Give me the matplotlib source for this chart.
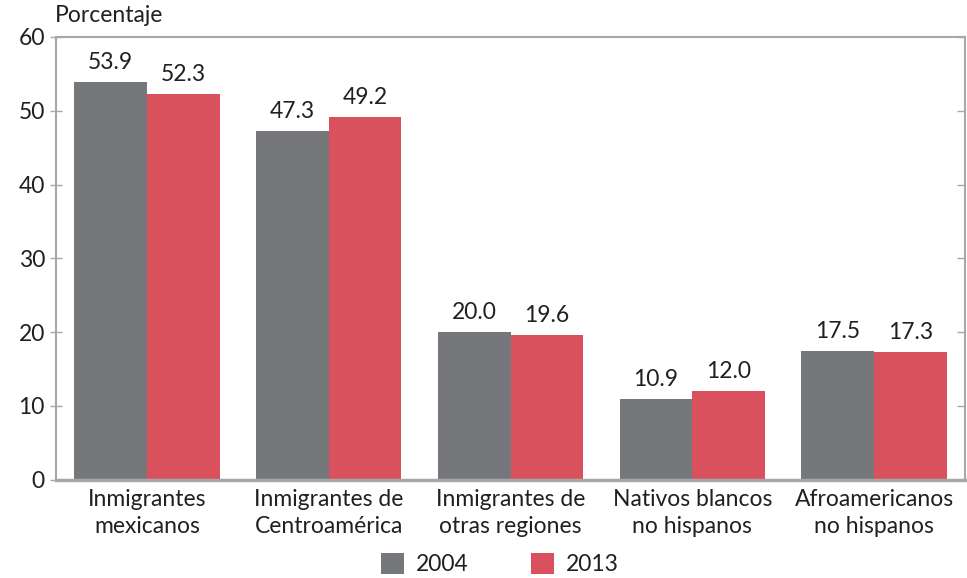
import matplotlib
matplotlib.use("Agg")
import matplotlib.pyplot as plt
import numpy as np

categories = ["Inmigrantes\nmexicanos", "Inmigrantes de\nCentroamérica",
              "Inmigrantes de\notras regiones", "Nativos blancos\nno hispanos",
              "Afroamericanos\nno hispanos"]
values_2004 = [53.9, 47.3, 20.0, 10.9, 17.5]
values_2013 = [52.3, 49.2, 19.6, 12.0, 17.3]
series_labels = ["2004", "2013"]
yticks = [0, 10, 20, 30, 40, 50, 60]

plt.rcParams['font.family'] = ['Lato', 'DejaVu Sans']
text_color = "#231f20"
grey = "#76777b"
red = "#d9515c"
spine_color = "#a7a7aa"
fs = 16.5

fig = plt.figure(figsize=(9.67, 5.78), dpi=100)
ax = fig.add_axes([0.058, 0.170, 0.940, 0.766])

x = np.arange(len(categories))
w = 0.4
b1 = ax.bar(x - w / 2, values_2004, w, color=grey, label=series_labels[0])
b2 = ax.bar(x + w / 2, values_2013, w, color=red, label=series_labels[1])

for bars, vals in ((b1, values_2004), (b2, values_2013)):
    for rect, v in zip(bars, vals):
        ax.text(rect.get_x() + rect.get_width() / 2, v + 1.2, f"{v:.1f}",
                ha="center", va="bottom", fontsize=fs, color=text_color)

ax.set_xlim(-0.5, len(categories) - 0.5)
ax.set_ylim(0, 60)
ax.set_yticks(yticks)
ax.set_yticklabels([str(t) for t in yticks], fontsize=fs, color=text_color)
ax.set_xticks(x)
ax.set_xticklabels(categories, fontsize=fs, color=text_color, linespacing=1.3)
ax.tick_params(axis="x", length=0, pad=7)
ax.tick_params(axis="y", direction="inout", length=8, width=1, color=spine_color, pad=4)

for side in ("left", "top", "right"):
    ax.spines[side].set_color(spine_color)
    ax.spines[side].set_linewidth(1.5)
ax.spines["bottom"].set_color(spine_color)
ax.spines["bottom"].set_linewidth(2.5)

# right-hand inner ticks
ax2 = ax.twinx()
ax2.set_ylim(0, 60)
ax2.set_yticks(yticks)
ax2.tick_params(axis="y", direction="in", length=6, width=1, color=spine_color, labelright=False)
for s in ax2.spines.values():
    s.set_visible(False)

fig.text(0.057, 0.955, "Porcentaje", fontsize=fs, color=text_color, ha="left", va="bottom")

fig.legend(handles=[b1, b2], labels=series_labels, loc="center", bbox_to_anchor=(0.517, 0.024),
           ncol=2, frameon=False, fontsize=fs, handlelength=1.0, handleheight=1.0,
           columnspacing=2.7, handletextpad=0.55, labelcolor=text_color,
           borderpad=0, borderaxespad=0)

fig.savefig("out.png", dpi=100)
